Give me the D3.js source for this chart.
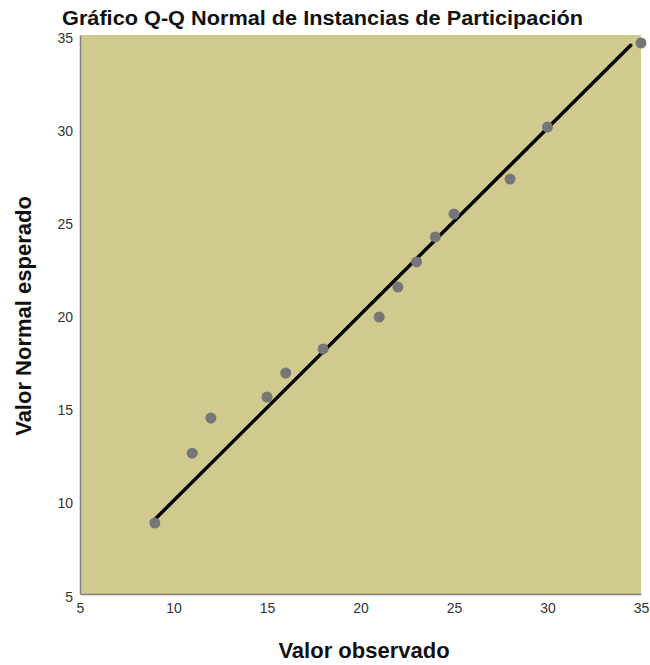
<!DOCTYPE html>
<html>
<head>
<meta charset="utf-8">
<script src="https://cdn.jsdelivr.net/npm/d3@7"></script>
<style>
  body { margin: 0; background: #fff; }
  text { font-family: "Liberation Sans", Arial, sans-serif; }
</style>
</head>
<body>
<div id="chart"></div>
<script>
// observed values and expected normal values
var observed = [9, 11, 12, 15, 16, 18, 21, 22, 23, 24, 25, 28, 30, 35];
var expected = [8.81, 12.56, 14.44, 15.57, 16.86, 18.15, 19.86, 21.47, 22.82, 24.16, 25.4, 27.27, 30.06, 34.57];
var xTicks = [5, 10, 15, 20, 25, 30, 35];
var yTicks = [5, 10, 15, 20, 25, 30, 35];
var lineRange = [8.85, 34.45];

var width = 650, height = 665,
    margin = {top: 35, right: 9, bottom: 71, left: 80};

var svg = d3.select("#chart").append("svg")
    .attr("width", width)
    .attr("height", height);

var x = d3.scaleLinear().domain([5, 35]).range([margin.left, width - margin.right]);
var y = d3.scaleLinear().domain([5, 35]).range([height - margin.bottom, margin.top]);

// plot background
svg.append("rect")
    .attr("x", x(5)).attr("y", y(35))
    .attr("width", x(35) - x(5)).attr("height", y(5) - y(35))
    .style("fill", "#d0ca8f");

// axes (labels only, no ticks)
var xAxis = svg.append("g")
    .attr("transform", "translate(0," + y(5) + ")")
    .call(d3.axisBottom(x).tickValues(xTicks).tickSize(0).tickPadding(9));
xAxis.select(".domain").attr("stroke", "#808080").attr("stroke-width", 1.5);
xAxis.selectAll("text").style("font-size", "14px").style("fill", "#333");

var yAxis = svg.append("g")
    .attr("transform", "translate(" + x(5) + ",0)")
    .call(d3.axisLeft(y).tickValues(yTicks).tickSize(0).tickPadding(7));
yAxis.select(".domain").attr("stroke", "#808080").attr("stroke-width", 1.5);
yAxis.selectAll("text").attr("dy", "0.5em").style("font-size", "14px").style("fill", "#333");

// reference line
svg.append("line")
    .attr("x1", x(lineRange[0])).attr("y1", y(lineRange[0]))
    .attr("x2", x(lineRange[1])).attr("y2", y(lineRange[1]))
    .style("stroke", "#000")
    .style("stroke-width", 3.5)
    .style("stroke-linecap", "round");

// points
svg.selectAll("circle.pt").data(observed).enter().append("circle")
    .attr("class", "pt")
    .attr("cx", function(d){ return x(d); })
    .attr("cy", function(d, i){ return y(expected[i]); })
    .attr("r", 5.5)
    .style("fill", "#767676");

// titles
svg.append("text")
    .attr("x", 62).attr("y", 25)
    .attr("textLength", 521).attr("lengthAdjust", "spacingAndGlyphs")
    .style("font-size", "20px").style("font-weight", "bold").style("fill", "#111")
    .text("Gráfico Q-Q Normal de Instancias de Participación");

svg.append("text")
    .attr("x", 364).attr("y", 658)
    .attr("text-anchor", "middle")
    .style("font-size", "22px").style("font-weight", "bold").style("fill", "#111")
    .text("Valor observado");

svg.append("text")
    .attr("transform", "translate(31," + 316 + ") rotate(-90)")
    .attr("text-anchor", "middle")
    .style("font-size", "22px").style("font-weight", "bold").style("fill", "#111")
    .text("Valor Normal esperado");
</script>
</body>
</html>
